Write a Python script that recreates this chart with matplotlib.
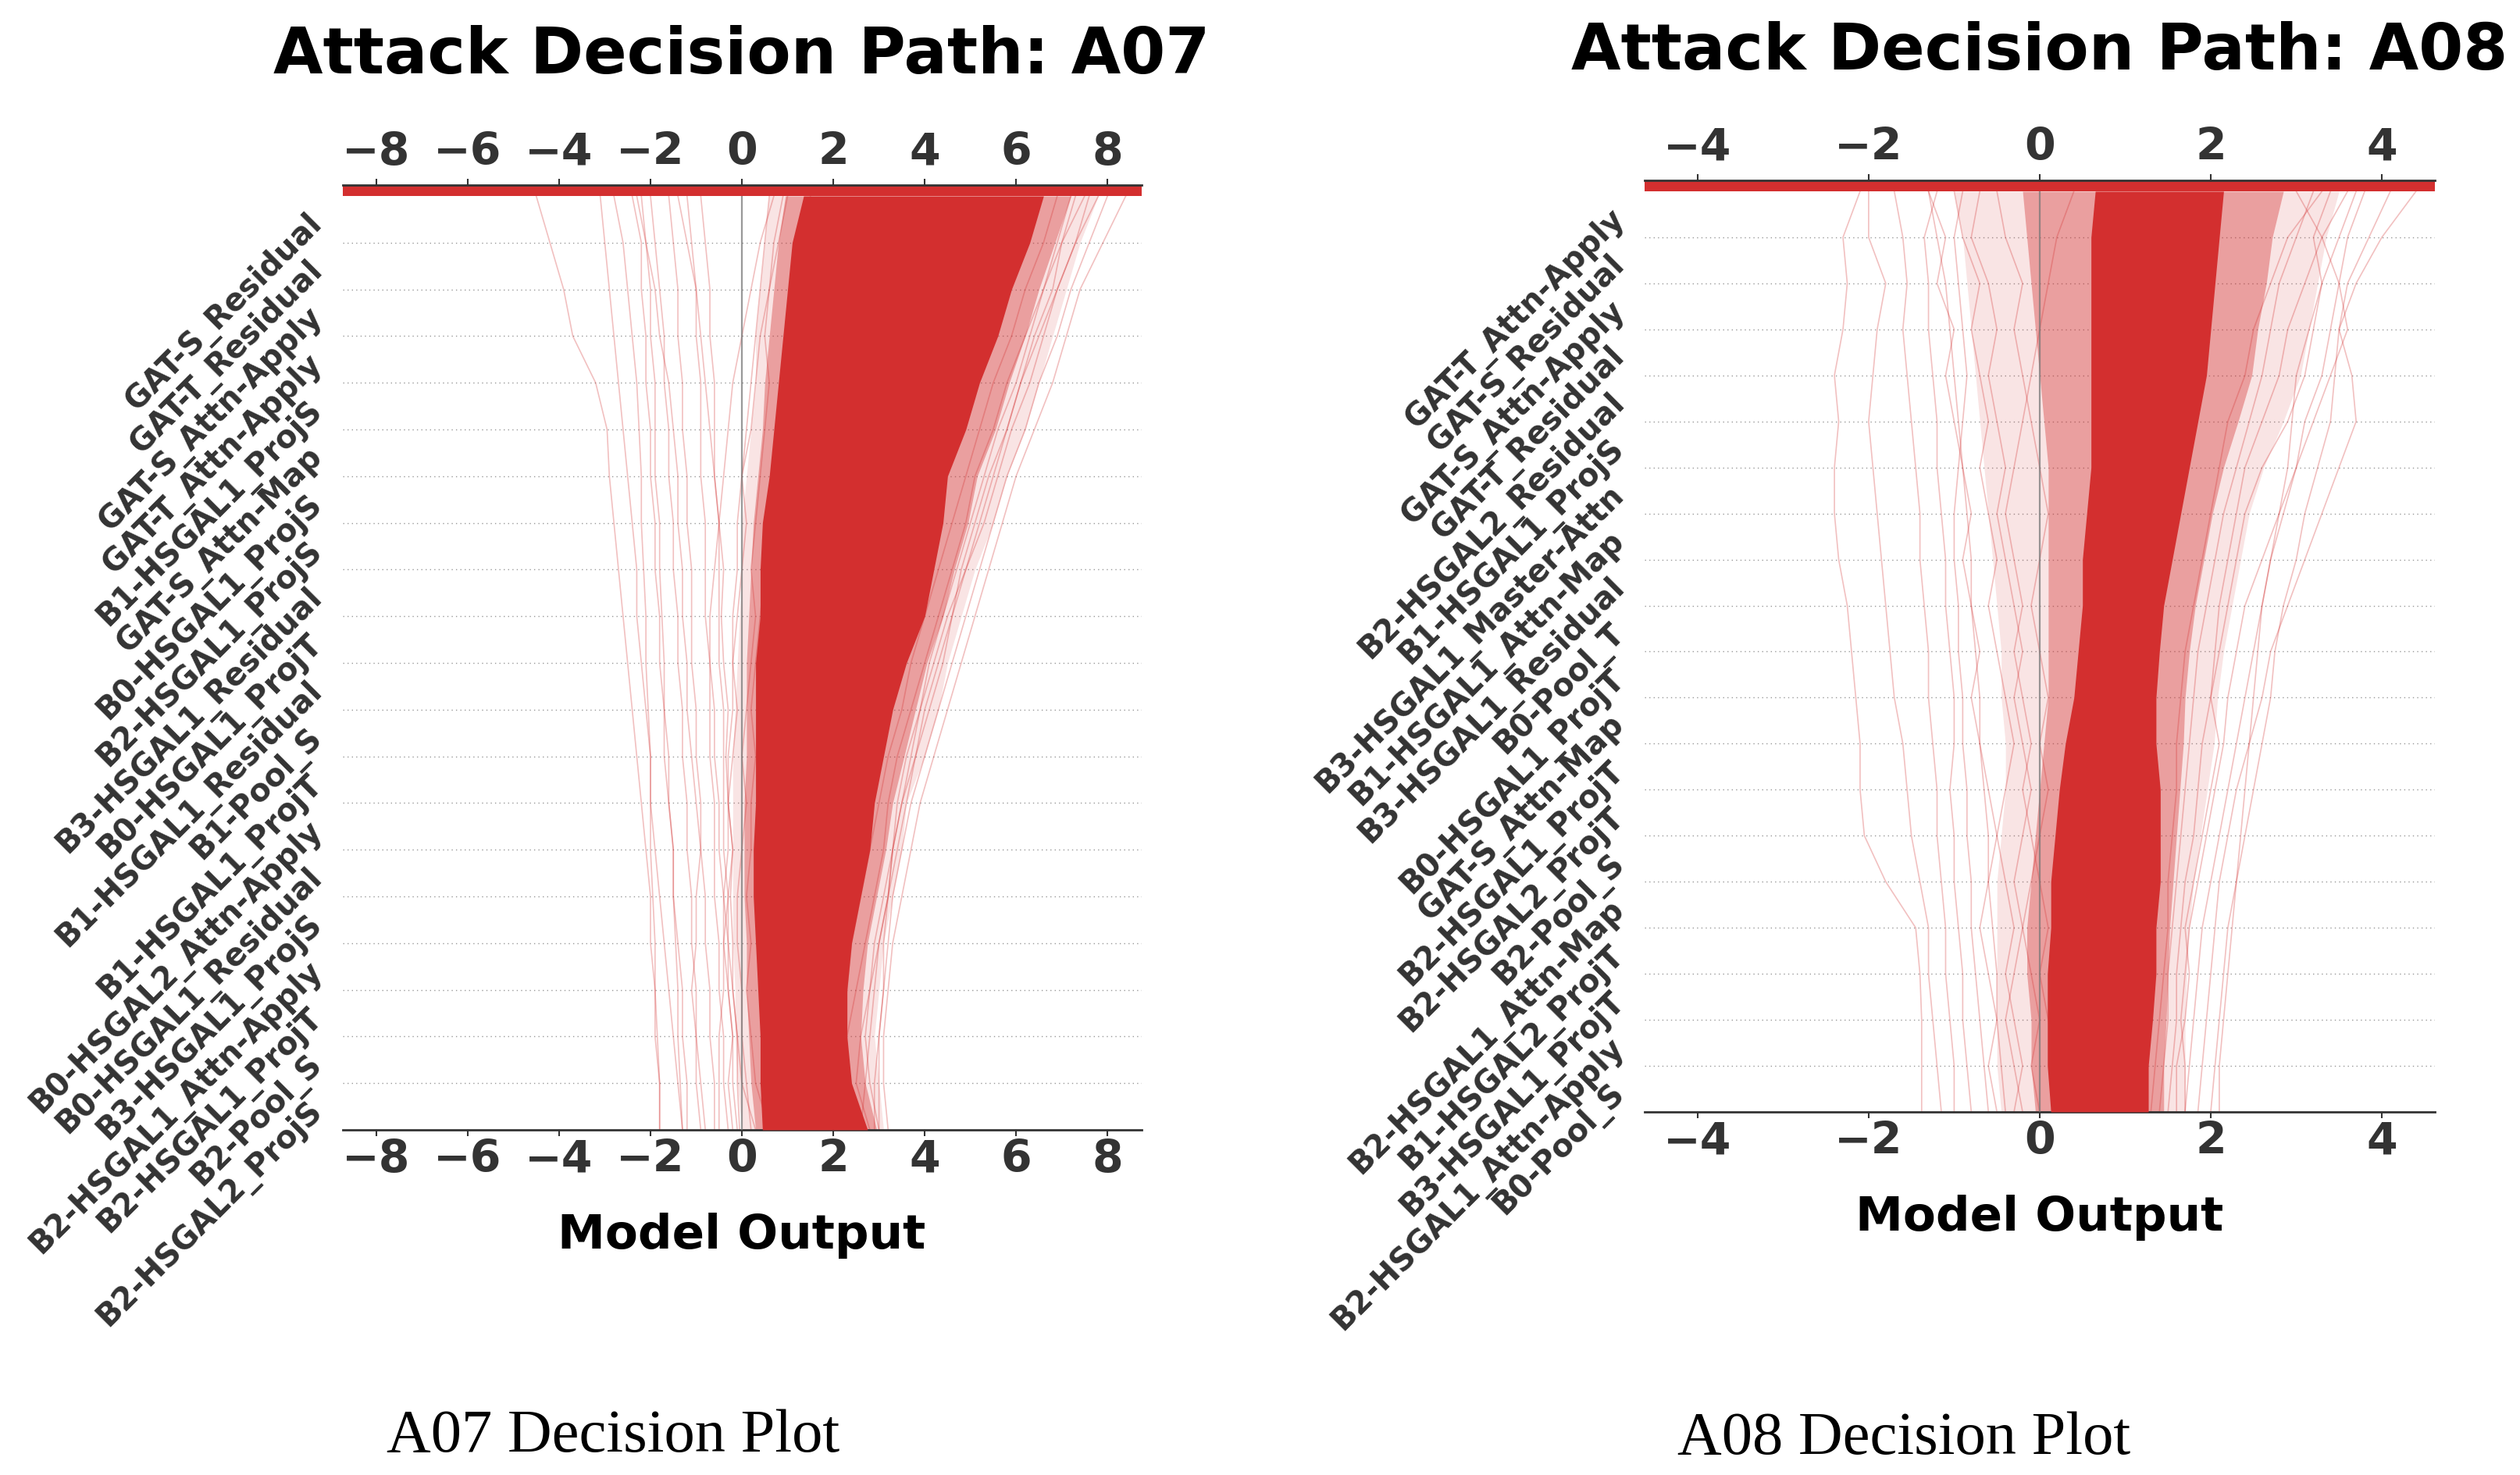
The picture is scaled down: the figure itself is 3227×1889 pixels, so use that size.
import numpy as np
import matplotlib
matplotlib.use("Agg")
import matplotlib.pyplot as plt

RED = "#d32f2f"
TXT = "#333333"

# feature names, most important first (top row of each decision plot)
a07_features = [
    "GAT-S_Residual", "GAT-T_Residual", "GAT-S_Attn-Apply", "GAT-T_Attn-Apply",
    "B1-HSGAL1_ProjS", "GAT-S_Attn-Map", "B0-HSGAL1_ProjS", "B2-HSGAL1_ProjS",
    "B3-HSGAL1_Residual", "B0-HSGAL1_ProjT", "B1-HSGAL1_Residual", "B1-Pool_S",
    "B1-HSGAL1_ProjT", "B0-HSGAL2_Attn-Apply", "B0-HSGAL1_Residual", "B3-HSGAL1_ProjS",
    "B2-HSGAL1_Attn-Apply", "B2-HSGAL1_ProjT", "B2-Pool_S", "B2-HSGAL2_ProjS",
]
a08_features = [
    "GAT-T_Attn-Apply", "GAT-S_Residual", "GAT-S_Attn-Apply", "GAT-T_Residual",
    "B2-HSGAL2_Residual", "B1-HSGAL1_ProjS", "B3-HSGAL1_Master-Attn", "B1-HSGAL1_Attn-Map",
    "B3-HSGAL1_Residual", "B0-Pool_T", "B0-HSGAL1_ProjT", "GAT-S_Attn-Map",
    "B2-HSGAL1_ProjT", "B2-HSGAL2_ProjT", "B2-Pool_S", "B2-HSGAL1_Attn-Map",
    "B1-HSGAL2_ProjT", "B3-HSGAL1_ProjT", "B2-HSGAL1_Attn-Apply", "B0-Pool_S",
]

# cumulative model output, level 0 (bottom) .. level 20 (top)
# dense core of the paths
a07_core_lo = [0.45, 0.4, 0.4, 0.35, 0.3, 0.25, 0.25, 0.3, 0.3, 0.3, 0.3, 0.4, 0.4, 0.45, 0.6, 0.7, 0.8, 0.9, 1.0, 1.1, 1.35]
a07_core_hi = [2.75, 2.4, 2.3, 2.3, 2.4, 2.6, 2.8, 2.9, 3.1, 3.3, 3.6, 4.0, 4.2, 4.4, 4.5, 4.9, 5.2, 5.6, 5.9, 6.3, 6.6]
# medium density
a07_mid_lo = [0.3, 0.2, 0.15, 0.1, 0.1, 0.05, 0.05, 0.05, 0.1, 0.1, 0.1, 0.15, 0.2, 0.25, 0.35, 0.45, 0.5, 0.6, 0.7, 0.8, 0.95]
a07_mid_hi = [2.95, 2.7, 2.6, 2.65, 2.75, 2.95, 3.15, 3.3, 3.55, 3.8, 4.05, 4.4, 4.65, 4.95, 5.15, 5.55, 5.85, 6.2, 6.5, 6.85, 7.2]
# sparse outer spread
a07_halo_lo = [0.0, -0.1, -0.15, -0.15, -0.2, -0.2, -0.2, -0.2, -0.2, -0.15, -0.1, -0.05, 0.0, 0.0, 0.1, 0.2, 0.3, 0.3, 0.4, 0.5, 0.6]
a07_halo_hi = [3.1, 3.0, 2.9, 3.0, 3.1, 3.3, 3.5, 3.6, 4.0, 4.3, 4.5, 4.8, 5.1, 5.5, 5.8, 6.2, 6.5, 6.8, 7.1, 7.4, 7.8]
# single paths
a07_paths = [
    [-1.8, -1.8, -1.9, -1.9, -2.0, -2.0, -2.1, -2.2, -2.3, -2.4, -2.5, -2.6, -2.7, -2.8, -2.9, -2.95, -3.2, -3.7, -3.9, -4.2, -4.5],
    [-1.3, -1.4, -1.5, -1.6, -1.7, -1.8, -1.9, -2.0, -2.0, -2.1, -2.2, -2.3, -2.3, -2.4, -2.5, -2.6, -2.7, -2.8, -2.9, -3.0, -3.1],
    [-1.8, -1.8, -1.85, -1.9, -1.9, -1.95, -2.0, -2.0, -2.0, -2.05, -2.1, -2.1, -2.15, -2.2, -2.2, -2.25, -2.3, -2.4, -2.5, -2.6, -2.8],
    [-1.2, -1.2, -1.3, -1.3, -1.4, -1.5, -1.5, -1.6, -1.7, -1.7, -1.8, -1.8, -1.9, -1.9, -2.0, -2.0, -2.1, -2.1, -2.2, -2.2, -2.4],
    [-0.8, -0.9, -1.0, -1.0, -1.1, -1.1, -1.2, -1.2, -1.3, -1.3, -1.4, -1.4, -1.5, -1.5, -1.6, -1.6, -1.7, -1.7, -1.8, -1.9, -2.0],
    [-0.6, -0.6, -0.7, -0.7, -0.8, -0.8, -0.9, -0.9, -1.0, -1.0, -1.1, -1.1, -1.1, -1.2, -1.2, -1.3, -1.3, -1.4, -1.4, -1.5, -1.6],
    [-0.3, -0.4, -0.4, -0.5, -0.5, -0.6, -0.6, -0.6, -0.7, -0.7, -0.7, -0.8, -0.8, -0.8, -0.9, -0.9, -0.9, -1.0, -1.0, -1.1, -1.2],
    [-1.3, -1.35, -1.4, -1.4, -1.45, -1.5, -1.5, -1.6, -1.6, -1.7, -1.7, -1.75, -1.8, -1.8, -1.9, -1.9, -1.9, -2.0, -2.0, -2.1, -2.2],
    [-0.1, -0.2, -0.2, -0.3, -0.3, -0.3, -0.4, -0.4, -0.4, -0.4, -0.5, -0.5, -0.5, -0.5, -0.6, -0.6, -0.6, -0.7, -0.7, -0.8, -0.9],
    [-0.5, -0.5, -0.5, -0.4, -0.4, -0.4, -0.3, -0.3, -0.3, -0.2, -0.2, -0.2, -0.1, -0.1, 0.0, 0.1, 0.2, 0.3, 0.4, 0.5, 0.6],
    [-0.9, -1.0, -1.0, -1.1, -1.0, -1.0, -0.9, -1.0, -1.1, -1.2, -1.2, -1.3, -1.3, -1.4, -1.4, -1.5, -1.6, -1.8, -1.9, -2.1, -2.3],
    [-0.05, -0.1, -0.1, -0.2, -0.2, -0.25, -0.2, -0.3, -0.35, -0.3, -0.4, -0.45, -0.4, -0.5, -0.6, -0.7, -0.8, -0.9, -1.0, -1.2, -1.4],
    [0.3, 0.0, -0.1, -0.2, -0.3, -0.4, -0.5, -0.5, -0.6, -0.6, -0.7, -0.7, -0.6, -0.5, -0.4, -0.3, -0.2, 0.0, 0.2, 0.4, 0.7],
    [0.2, 0.1, 0.0, 0.0, -0.1, -0.1, 0.0, 0.1, 0.0, 0.1, 0.2, 0.3, 0.2, 0.3, 0.4, 0.5, 0.6, 0.5, 0.6, 0.8, 1.0],
    [0.6, 0.3, 0.2, 0.1, 0.2, 0.1, 0.2, 0.2, 0.3, 0.2, 0.3, 0.4, 0.5, 0.6, 0.7, 0.8, 0.9, 1.1, 1.2, 1.3, 1.5],
    [-0.2, -0.3, -0.2, -0.3, -0.4, -0.3, -0.2, -0.3, -0.2, -0.1, -0.2, -0.1, 0.0, 0.1, 0.0, 0.2, 0.3, 0.4, 0.6, 0.7, 0.9],
    [3.2, 3.1, 3.1, 3.2, 3.3, 3.5, 3.7, 3.9, 4.2, 4.5, 4.8, 5.1, 5.4, 5.7, 6.0, 6.4, 6.8, 7.1, 7.4, 7.9, 8.4],
    [2.9, 2.9, 3.0, 3.1, 3.2, 3.3, 3.5, 3.7, 4.0, 4.3, 4.6, 4.9, 5.2, 5.5, 5.8, 6.2, 6.5, 6.9, 7.2, 7.6, 8.0],
    [2.6, 2.7, 2.8, 2.9, 3.0, 3.2, 3.4, 3.6, 3.8, 4.1, 4.4, 4.6, 4.9, 5.2, 5.5, 5.8, 6.1, 6.5, 6.9, 7.3, 7.6],
    [3.0, 3.0, 3.0, 3.1, 3.1, 3.2, 3.3, 3.5, 3.7, 3.9, 4.1, 4.4, 4.7, 5.0, 5.3, 5.6, 6.0, 6.3, 6.6, 7.0, 7.3],
    [2.8, 2.5, 2.6, 2.8, 3.0, 3.2, 3.3, 3.5, 3.8, 4.0, 4.3, 4.6, 4.8, 5.1, 5.4, 5.8, 6.1, 6.4, 6.8, 7.0, 7.5],
    [2.4, 2.2, 2.3, 2.5, 2.7, 2.9, 3.1, 3.2, 3.4, 3.7, 4.0, 4.3, 4.6, 4.9, 5.1, 5.5, 5.8, 6.2, 6.6, 6.9, 7.2],
    [3.0, 2.8, 2.7, 2.8, 2.9, 3.1, 3.3, 3.4, 3.6, 3.9, 4.2, 4.5, 4.9, 5.3, 5.6, 5.9, 6.3, 6.6, 6.9, 7.3, 7.8],
    [2.2, 2.1, 2.2, 2.3, 2.4, 2.6, 2.8, 3.0, 3.2, 3.5, 3.7, 4.0, 4.3, 4.6, 4.9, 5.2, 5.5, 5.9, 6.2, 6.6, 6.9],
]

a08_core_lo = [0.13, 0.09, 0.09, 0.09, 0.13, 0.13, 0.18, 0.23, 0.3, 0.4, 0.45, 0.5, 0.5, 0.55, 0.6, 0.6, 0.6, 0.6, 0.6, 0.6, 0.65]
a08_core_hi = [1.27, 1.27, 1.32, 1.36, 1.36, 1.41, 1.41, 1.41, 1.36, 1.36, 1.4, 1.45, 1.55, 1.65, 1.75, 1.85, 1.95, 2.0, 2.05, 2.1, 2.15]
a08_mid_lo = [-0.05, -0.1, -0.1, -0.15, -0.15, -0.1, -0.05, 0.0, 0.05, 0.1, 0.1, 0.1, 0.1, 0.1, 0.1, 0.05, 0.0, -0.05, -0.1, -0.15, -0.2]
a08_mid_hi = [1.45, 1.45, 1.48, 1.5, 1.52, 1.56, 1.6, 1.64, 1.68, 1.7, 1.75, 1.82, 1.92, 2.02, 2.15, 2.32, 2.48, 2.55, 2.65, 2.72, 2.85]
a08_halo_lo = [-0.45, -0.5, -0.5, -0.5, -0.5, -0.5, -0.45, -0.4, -0.4, -0.45, -0.45, -0.5, -0.55, -0.6, -0.65, -0.7, -0.75, -0.8, -0.85, -0.9, -1.0]
a08_halo_hi = [1.7, 1.7, 1.7, 1.72, 1.75, 1.8, 1.88, 1.96, 2.04, 2.08, 2.15, 2.25, 2.35, 2.45, 2.62, 2.85, 3.05, 3.15, 3.25, 3.35, 3.5]
a08_paths = [
    [-1.38, -1.38, -1.38, -1.4, -1.45, -1.8, -2.05, -2.1, -2.1, -2.15, -2.2, -2.25, -2.35, -2.4, -2.4, -2.35, -2.4, -2.3, -2.25, -2.3, -2.1],
    [-1.15, -1.2, -1.25, -1.3, -1.3, -1.4, -1.5, -1.55, -1.6, -1.7, -1.75, -1.8, -1.85, -1.9, -1.95, -2.0, -1.95, -1.9, -1.8, -2.0, -2.0],
    [-1.0, -1.0, -1.05, -1.1, -1.1, -1.15, -1.2, -1.2, -1.25, -1.3, -1.3, -1.35, -1.4, -1.4, -1.45, -1.5, -1.55, -1.6, -1.55, -1.6, -1.7],
    [-0.8, -0.85, -0.9, -0.9, -0.95, -1.0, -1.0, -1.05, -1.0, -1.0, -1.05, -1.1, -1.1, -1.15, -1.2, -1.2, -1.25, -1.3, -1.3, -1.35, -1.2],
    [-0.6, -0.65, -0.7, -0.75, -0.8, -0.8, -0.85, -0.85, -0.9, -0.9, -0.95, -0.95, -1.0, -1.0, -0.95, -0.9, -0.85, -0.9, -0.95, -1.0, -0.9],
    [-0.4, -0.45, -0.5, -0.5, -0.55, -0.6, -0.6, -0.65, -0.7, -0.7, -0.75, -0.8, -0.8, -0.85, -0.9, -0.95, -1.0, -1.05, -1.1, -1.2, -1.3],
    [-0.3, -0.2, -0.3, -0.4, -0.3, -0.4, -0.5, -0.4, -0.3, -0.4, -0.5, -0.6, -0.5, -0.6, -0.7, -0.6, -0.7, -0.8, -0.7, -0.9, -1.0],
    [0.0, -0.1, 0.0, -0.1, -0.2, -0.1, 0.0, 0.1, 0.0, 0.1, 0.0, -0.1, 0.0, 0.1, 0.0, -0.1, -0.2, -0.3, -0.2, -0.4, -0.5],
    [-0.5, -0.6, -0.5, -0.6, -0.7, -0.6, -0.5, -0.6, -0.7, -0.8, -0.7, -0.8, -0.9, -0.8, -0.9, -1.0, -1.1, -1.0, -1.2, -1.1, -1.3],
    [0.3, 0.2, 0.1, 0.0, 0.1, 0.0, -0.1, -0.2, -0.1, -0.2, -0.3, -0.2, -0.3, -0.4, -0.3, -0.2, -0.1, 0.0, 0.1, 0.2, 0.4],
    [-0.2, -0.3, -0.4, -0.3, -0.2, -0.3, -0.2, -0.1, -0.2, -0.3, -0.2, -0.3, -0.4, -0.5, -0.4, -0.5, -0.6, -0.5, -0.6, -0.8, -0.7],
    [2.0, 2.05, 2.1, 2.15, 2.2, 2.3, 2.4, 2.5, 2.6, 2.7, 2.75, 2.85, 3.0, 3.1, 3.25, 3.4, 3.45, 3.5, 3.7, 4.0, 4.4],
    [1.85, 1.9, 1.95, 2.0, 2.05, 2.1, 2.2, 2.3, 2.45, 2.6, 2.7, 2.9, 3.1, 3.3, 3.5, 3.7, 3.65, 3.5, 3.6, 3.85, 4.1],
    [1.7, 1.75, 1.8, 1.85, 1.9, 2.0, 2.1, 2.2, 2.3, 2.4, 2.5, 2.6, 2.7, 2.85, 3.0, 3.1, 3.3, 3.4, 3.5, 3.6, 3.8],
    [2.1, 2.1, 2.15, 2.2, 2.25, 2.3, 2.35, 2.4, 2.45, 2.5, 2.55, 2.6, 2.7, 2.8, 2.9, 2.95, 3.0, 3.15, 3.3, 3.5, 3.7],
    [1.6, 1.6, 1.7, 1.75, 1.7, 1.8, 1.9, 2.0, 2.1, 2.0, 2.1, 2.2, 2.3, 2.4, 2.6, 2.9, 3.1, 3.2, 3.3, 3.2, 3.4],
    [1.5, 1.55, 1.6, 1.6, 1.65, 1.7, 1.8, 1.85, 1.9, 2.0, 2.05, 2.1, 2.2, 2.3, 2.4, 2.6, 2.8, 2.9, 3.1, 3.3, 3.6],
    [1.4, 1.45, 1.5, 1.5, 1.55, 1.6, 1.65, 1.7, 1.75, 1.8, 1.85, 1.95, 2.05, 2.15, 2.3, 2.45, 2.6, 2.7, 2.8, 3.0, 3.2],
    [1.7, 1.7, 1.65, 1.7, 1.75, 1.85, 1.95, 2.05, 2.15, 2.2, 2.3, 2.4, 2.6, 2.8, 3.0, 3.2, 3.4, 3.6, 3.5, 3.3, 3.0],
    [1.3, 1.35, 1.4, 1.45, 1.5, 1.5, 1.55, 1.6, 1.6, 1.65, 1.7, 1.8, 1.9, 2.0, 2.1, 2.2, 2.4, 2.5, 2.7, 2.9, 3.3],
]


def decision_panel(fig, rect, title, title_y, features, core, mid, halo, paths, xmax, ticks):
    left, bottom, width, height = rect
    ax = fig.add_axes(rect)
    n = len(features)
    levels = np.arange(n + 1)

    for i in range(1, n):
        ax.axhline(i, color="#999999", lw=1.0, ls=(0, (1, 3)), zorder=0)

    ax.fill_betweenx(levels, halo[0], halo[1], color=RED, alpha=0.13, lw=0, zorder=1)
    ax.fill_betweenx(levels, mid[0], mid[1], color=RED, alpha=0.38, lw=0, zorder=1)
    for p in paths:
        ax.plot(p, levels, color=RED, alpha=0.3, lw=1.2, zorder=2)
    ax.fill_betweenx(levels, core[0], core[1], color=RED, alpha=1.0, lw=0, zorder=3)

    ax.axvline(0, color="#777777", lw=1.6, alpha=0.75, zorder=4)

    ax.set_xlim(-xmax, xmax)
    ax.set_ylim(0, n)
    ticklabels = [f"{t}".replace("-", "\u2212") for t in ticks]
    ax.set_xticks(ticks)
    ax.set_xticklabels(ticklabels)
    ax.tick_params(axis="x", labelsize=41, colors=TXT, length=6, width=1.5, pad=2)
    for lab in ax.get_xticklabels():
        lab.set_fontweight("bold")

    ax.set_yticks(levels[:-1] + 0.5)
    ax.set_yticklabels(features[::-1], rotation=45, ha="right", va="center",
                       rotation_mode="anchor", fontsize=28.5, fontweight="bold", color=TXT)
    ax.tick_params(axis="y", length=0, pad=23)

    for s in ["left", "right", "top"]:
        ax.spines[s].set_visible(False)
    ax.spines["bottom"].set_color(TXT)
    ax.spines["bottom"].set_linewidth(2)

    ax.set_xlabel("Model Output", fontsize=44, fontweight="bold", labelpad=29)

    # colour bar strip on top, carrying the upper axis
    cax = fig.add_axes([left, bottom + height, width, 0.0074])
    cax.set_facecolor(RED)
    cax.set_xlim(-xmax, xmax)
    cax.set_yticks([])
    cax.xaxis.tick_top()
    cax.set_xticks(ticks)
    cax.set_xticklabels(ticklabels)
    cax.tick_params(axis="x", labelsize=41, colors=TXT, length=6, width=1.5, pad=4)
    for lab in cax.get_xticklabels():
        lab.set_fontweight("bold")
    for s in ["left", "right", "bottom"]:
        cax.spines[s].set_visible(False)
    cax.spines["top"].set_color(TXT)
    cax.spines["top"].set_linewidth(2)

    fig.text(left + width / 2, title_y, title, ha="center", va="baseline",
             fontsize=59, fontweight="bold", color="black")
    return ax


fig = plt.figure(figsize=(32.27, 18.89), dpi=100)

decision_panel(fig, [0.1359, 0.2340, 0.3170, 0.6331], "Attack Decision Path: A07", 0.9502,
               a07_features, (a07_core_lo, a07_core_hi), (a07_mid_lo, a07_mid_hi),
               (a07_halo_lo, a07_halo_hi), a07_paths, 8.74, [-8, -6, -4, -2, 0, 2, 4, 6, 8])
decision_panel(fig, [0.6526, 0.2462, 0.3136, 0.6241], "Attack Decision Path: A08", 0.9529,
               a08_features, (a08_core_lo, a08_core_hi), (a08_mid_lo, a08_mid_hi),
               (a08_halo_lo, a08_halo_hi), a08_paths, 4.62, [-4, -2, 0, 2, 4])

fig.text(785 / 3227, 1 - 1859 / 1889, "A07 Decision Plot", ha="center", va="baseline",
         fontsize=56.5, family="Liberation Serif")
fig.text(2438 / 3227, 1 - 1862 / 1889, "A08 Decision Plot", ha="center", va="baseline",
         fontsize=56.5, family="Liberation Serif")

fig.savefig("out.png", dpi=100)
